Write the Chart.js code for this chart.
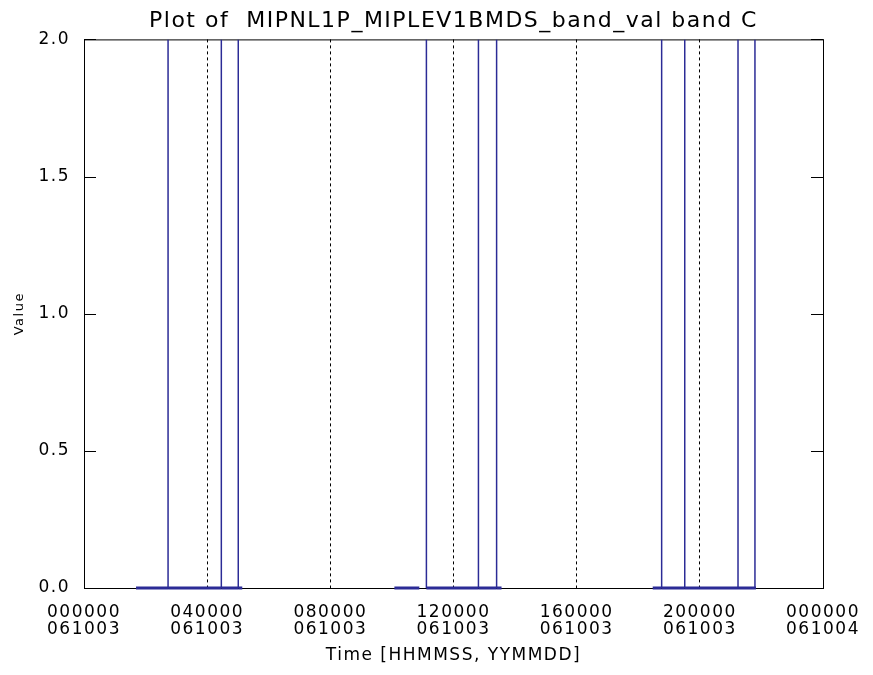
<!DOCTYPE html>
<html>
<head>
<meta charset="utf-8">
<script src="https://cdn.jsdelivr.net/npm/chart.js@4.4.0/dist/chart.umd.min.js"></script>
<style>
  html, body { margin: 0; padding: 0; background: #fff; }
</style>
</head>
<body>
<canvas id="myChart" width="873" height="675"></canvas>
<script>
/* data: time in hours since 000000 061003 */
const times = [
  1.69, 2.73, 2.73, 2.73, 4.46, 4.46, 4.46, 5.01, 5.01, 5.01, 5.14,
  7.60,
  10.08, 10.89,
  11.00,
  11.12, 11.12, 12.81, 12.81, 12.81, 13.40, 13.40, 13.40, 13.56,
  16.00,
  18.47, 18.76, 18.76, 18.76, 19.51, 19.51, 19.51, 21.24, 21.24, 21.24, 21.79, 21.79, 21.79, 21.82
];
const values = [
  0, 0, 2, 0, 0, 2, 0, 0, 2, 0, 0,
  null,
  0, 0,
  null,
  2, 0, 0, 2, 0, 0, 2, 0, 0,
  null,
  0, 0, 2, 0, 0, 2, 0, 0, 2, 0, 0, 2, 0, 0
];

const xTickTimes = ["000000", "040000", "080000", "120000", "160000", "200000", "000000"];
const xTickDates = ["061003", "061003", "061003", "061003", "061003", "061003", "061004"];
const yTickLabels = ["0.0", "0.5", "1.0", "1.5", "2.0"];
const yTickValues = [0, 0.5, 1.0, 1.5, 2.0];

const lineColor = "#2b2b96";

// the old plot font is wide, so space the letters out a bit
// (canvas resize wipes the context state, so set it again each pass)
const wideText = {
  id: "wideText",
  beforeUpdate(chart) {
    chart.ctx.letterSpacing = "1.5px";
  },
  beforeDraw(chart) {
    chart.ctx.letterSpacing = "1.5px";
  }
};

// box round the plot and inward tick marks, IDL style
const frameBox = {
  id: "frameBox",
  beforeDatasetsDraw(chart) {
    const { ctx, chartArea: a, scales: { y } } = chart;
    ctx.save();
    ctx.strokeStyle = "#000";
    ctx.lineWidth = 1;
    ctx.strokeRect(a.left + 0.5, a.top + 0.5, a.right - a.left, a.bottom - a.top);
    ctx.beginPath();
    yTickValues.forEach(v => {
      const py = Math.round(y.getPixelForValue(v)) + 0.5;
      ctx.moveTo(a.left, py);
      ctx.lineTo(a.left + 12, py);
      ctx.moveTo(a.right - 12, py);
      ctx.lineTo(a.right, py);
    });
    ctx.stroke();
    ctx.restore();
  }
};

const ctx = document.getElementById("myChart");

const chart = new Chart(ctx, {
  type: "line",
  data: {
    datasets: [{
      label: "band_val",
      data: times.map((t, i) => ({ x: t, y: values[i] })),
      borderColor: lineColor,
      borderWidth: 1.5,
      pointRadius: 0,
      fill: false,
      tension: 0,
      spanGaps: false,
      clip: { left: 0, top: 0, right: 0, bottom: 3 },
      segment: {
        borderWidth: c => (c.p0.parsed.y === 0 && c.p1.parsed.y === 0) ? 3 : 1.5
      }
    }]
  },
  options: {
    responsive: false,
    animation: false,
    layout: { padding: { left: 0, right: 50, top: 0, bottom: 0 } },
    plugins: {
      legend: { display: false },
      tooltip: { enabled: false },
      title: {
        display: true,
        fullSize: false,
        text: "Plot of  MIPNL1P_MIPLEV1BMDS_band_val band C",
        color: "#000",
        font: { family: "DejaVu Sans", size: 22, weight: "normal", lineHeight: 1.2 },
        padding: { top: 8, bottom: 5 }
      }
    },
    scales: {
      x: {
        type: "linear",
        min: 0,
        max: 24,
        border: { display: false, dash: [3, 3] },
        grid: { color: "#000", lineWidth: 1, drawTicks: false },
        ticks: {
          stepSize: 4,
          maxRotation: 0,
          autoSkip: false,
          padding: 16,
          color: "#000",
          font: { family: "DejaVu Sans", size: 17, lineHeight: 1.0 },
          callback: (value, index) => [xTickTimes[index], xTickDates[index]]
        },
        title: {
          display: true,
          text: "Time [HHMMSS, YYMMDD]",
          color: "#000",
          font: { family: "DejaVu Sans", size: 17, lineHeight: 1.2 },
          padding: { top: 0, bottom: 9 }
        },
        afterFit: scale => {
          scale.height = 87;
          scale.paddingLeft = 0;
          scale.paddingRight = 0;
        }
      },
      y: {
        min: 0,
        max: 2,
        border: { display: false },
        grid: { display: false, drawTicks: false },
        ticks: {
          stepSize: 0.5,
          padding: 14,
          color: "#000",
          font: { family: "DejaVu Sans", size: 17 },
          callback: (value, index) => yTickLabels[index]
        },
        title: {
          display: true,
          text: "Value",
          color: "#000",
          font: { family: "DejaVu Sans", size: 13, lineHeight: 1.2 },
          padding: { top: 12, bottom: 0 }
        },
        afterFit: scale => { scale.width = 84; }
      }
    }
  },
  plugins: [wideText, frameBox]
});
</script>
</body>
</html>
